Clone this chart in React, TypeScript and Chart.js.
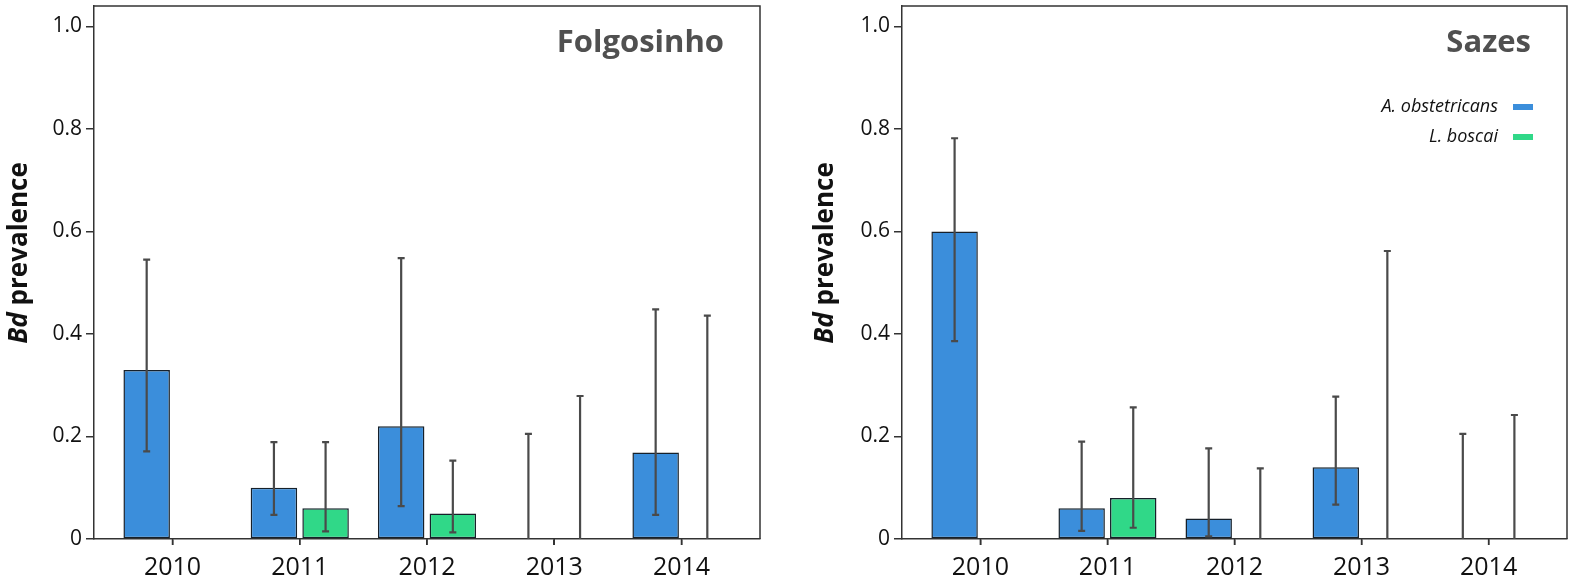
import React, { useEffect, useRef } from "react";
import { Chart, registerables } from "chart.js";

Chart.register(...registerables);

const years = ["2010", "2011", "2012", "2013", "2014"];
const yTicks = [0, 0.2, 0.4, 0.6, 0.8, 1.0];
const seriesNames = ["A. obstetricans", "L. boscai"];
const seriesColors = ["#3B8EDB", "#30D888"];

// Folgosinho
const folgObs = [0.33, 0.1, 0.22, 0, 0.169];
const folgObsLow = [0.171, 0.047, 0.064, 0, 0.047];
const folgObsHigh = [0.545, 0.189, 0.548, 0.205, 0.448];
const folgBos = [0, 0.06, 0.05, 0, 0];
const folgBosLow: (number | null)[] = [null, 0.015, 0.013, 0, 0];
const folgBosHigh: (number | null)[] = [null, 0.189, 0.153, 0.279, 0.436];

// Sazes
const sazObs = [0.6, 0.06, 0.04, 0.14, 0];
const sazObsLow = [0.386, 0.016, 0.005, 0.067, 0];
const sazObsHigh = [0.782, 0.19, 0.177, 0.278, 0.205];
const sazBos = [0, 0.08, 0, 0, 0];
const sazBosLow: (number | null)[] = [null, 0.022, 0, 0, 0];
const sazBosHigh: (number | null)[] = [null, 0.257, 0.138, 0.562, 0.242];

const FONT = "'Open Sans', 'Noto Sans', sans-serif";
const AXIS = "#333333";

type PanelProps = {
  title: string;
  obs: number[];
  obsLow: (number | null)[];
  obsHigh: (number | null)[];
  bos: number[];
  bosLow: (number | null)[];
  bosHigh: (number | null)[];
  width: number;
  yAxisWidth: number;
  rightPad: number;
  titleX: number;
  legend: boolean;
};

function Panel(p: PanelProps) {
  const ref = useRef<HTMLCanvasElement | null>(null);
  useEffect(() => {
    if (!ref.current) return;
    const lows = [p.obsLow, p.bosLow];
    const highs = [p.obsHigh, p.bosHigh];

    const errorPlugin = {
      id: "errbars",
      afterDatasetsDraw(chart: any) {
        const ctx = chart.ctx;
        const y = chart.scales.y;
        ctx.save();
        ctx.strokeStyle = "#4a4a4a";
        ctx.lineWidth = 2.2;
        for (let d = 0; d < 2; d++) {
          const meta = chart.getDatasetMeta(d);
          meta.data.forEach((el: any, i: number) => {
            const hi = highs[d][i];
            const lo = lows[d][i];
            if (hi === null || hi === undefined) return;
            const x = el.x;
            const yHi = y.getPixelForValue(hi);
            const yLo = y.getPixelForValue(lo || 0);
            ctx.beginPath();
            ctx.moveTo(x, yLo);
            ctx.lineTo(x, yHi);
            ctx.moveTo(x - 3.5, yHi);
            ctx.lineTo(x + 3.5, yHi);
            if (lo && lo > 0) {
              ctx.moveTo(x - 3.5, yLo);
              ctx.lineTo(x + 3.5, yLo);
            }
            ctx.stroke();
          });
        }
        ctx.restore();
      },
    };

    const decorPlugin = {
      id: "decor",
      afterDraw(chart: any) {
        const ctx = chart.ctx;
        const a = chart.chartArea;
        const xs = chart.scales.x;
        ctx.save();
        ctx.strokeStyle = AXIS;
        ctx.lineWidth = 1.5;
        ctx.beginPath();
        ctx.moveTo(a.left, a.top);
        ctx.lineTo(a.right, a.top);
        ctx.lineTo(a.right, a.bottom);
        years.forEach((_, i) => {
          const px = xs.getPixelForValue(i);
          ctx.moveTo(px, a.bottom);
          ctx.lineTo(px, a.bottom + 6);
        });
        ctx.stroke();
        ctx.fillStyle = "#505050";
        ctx.font = `bold 31px ${FONT}`;
        ctx.textAlign = "right";
        ctx.textBaseline = "alphabetic";
        ctx.fillText(p.title, a.right - 36, 52);
        ctx.save();
        ctx.translate(p.titleX, 253);
        ctx.rotate(-Math.PI / 2);
        ctx.fillStyle = "#111";
        ctx.textBaseline = "middle";
        ctx.textAlign = "left";
        const f1 = `italic bold 26px ${FONT}`;
        const f2 = `bold 26px ${FONT}`;
        ctx.font = f1;
        const w1 = ctx.measureText("Bd").width;
        ctx.font = f2;
        const t2 = " prevalence";
        const w2 = ctx.measureText(t2).width;
        const start = -(w1 + w2) / 2;
        ctx.font = f1;
        ctx.fillText("Bd", start, 0);
        ctx.font = f2;
        ctx.fillText(t2, start + w1, 0);
        ctx.restore();
        if (p.legend) {
          const rows = [107, 137];
          ctx.font = `italic 18px ${FONT}`;
          ctx.textAlign = "right";
          ctx.textBaseline = "middle";
          for (let i = 0; i < 2; i++) {
            ctx.fillStyle = "#111";
            ctx.fillText(seriesNames[i], a.right - 69, rows[i]);
            ctx.fillStyle = seriesColors[i];
            ctx.fillRect(a.right - 54, rows[i] - 3, 20, 6);
          }
        }
        ctx.restore();
      },
    };

    const mk = (vals: number[]) => vals.map((v, i) => ({ x: i, y: v }));
    const ds = (k: number, vals: number[]) => ({
      label: seriesNames[k],
      data: mk(vals),
      backgroundColor: seriesColors[k],
      borderColor: "#16202a",
      borderWidth: (c: any) => (c.raw && c.raw.y > 0 ? 1.5 : 0),
      borderSkipped: false,
      categoryPercentage: 0.812,
      barPercentage: 0.9,
    });
    const chart = new Chart(ref.current, {
      type: "bar",
      data: { datasets: [ds(0, p.obs), ds(1, p.bos)] },
      options: {
        responsive: false,
        animation: false,
        layout: { padding: { left: 0, right: p.rightPad, top: 6, bottom: 0 } },
        plugins: { legend: { display: false }, tooltip: { enabled: false }, title: { display: false } },
        scales: {
          x: {
            type: "linear",
            min: -0.617,
            max: 4.617,
            offset: false,
            grid: { display: true, offset: false, drawOnChartArea: false, drawTicks: true, tickLength: 6, color: AXIS, lineWidth: 1.5 },
            border: { display: true, color: AXIS, width: 1.5 },
            afterBuildTicks: (s: any) => {
              s.ticks = years.map((_, i) => ({ value: i }));
            },
            afterFit: (s: any) => {
              s.height = 44;
              s.paddingLeft = 0;
              s.paddingRight = 0;
            },
            ticks: {
              autoSkip: false,
              maxRotation: 0,
              padding: 8,
              color: "#111",
              font: { family: FONT, size: 25 },
              callback: (v: any) => years[Math.round(Number(v))] ?? "",
            },
          },
          y: {
            min: 0,
            max: 1.04,
            grid: { display: true, drawOnChartArea: false, drawTicks: true, tickLength: 8, color: AXIS, lineWidth: 1.5 },
            border: { display: true, color: AXIS, width: 1.5 },
            afterBuildTicks: (s: any) => {
              s.ticks = yTicks.map((v) => ({ value: v }));
            },
            afterFit: (s: any) => {
              s.width = p.yAxisWidth;
              s.paddingTop = 0;
              s.paddingBottom = 0;
            },
            ticks: {
              padding: 4,
              color: "#111",
              font: { family: FONT, size: 21 },
              callback: (v: any) => (Number(v) === 0 ? "0" : Number(v).toFixed(1)),
            },
          },
        },
      },
      plugins: [errorPlugin, decorPlugin],
    } as any);
    return () => chart.destroy();
  }, []);
  return <canvas ref={ref} width={p.width} height={583} style={{ display: "block" }} />;
}

export default function App() {
  return (
    <div style={{ position: "absolute", left: 0, top: 0, width: 1575, height: 583, background: "#fff", display: "flex" }}>
      <Panel
        title="Folgosinho"
        obs={folgObs}
        obsLow={folgObsLow}
        obsHigh={folgObsHigh}
        bos={folgBos}
        bosLow={folgBosLow}
        bosHigh={folgBosHigh}
        width={787}
        yAxisWidth={94}
        rightPad={27}
        titleX={20}
        legend={false}
      />
      <Panel
        title="Sazes"
        obs={sazObs}
        obsLow={sazObsLow}
        obsHigh={sazObsHigh}
        bos={sazBos}
        bosLow={sazBosLow}
        bosHigh={sazBosHigh}
        width={788}
        yAxisWidth={115}
        rightPad={8}
        titleX={39}
        legend={true}
      />
    </div>
  );
}
